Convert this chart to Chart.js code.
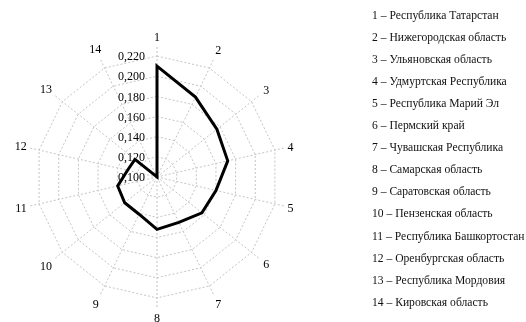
<!DOCTYPE html>
<html>
<head>
<meta charset="utf-8">
<script src="https://cdn.jsdelivr.net/npm/chart.js@4"></script>
<style>
  body { margin: 0; background: #fff; }
  #wrap { position: relative; width: 526px; height: 322px; overflow: hidden; }
  #radar { position: absolute; left: 0; top: 0; }
  #legend {
    position: absolute; left: 372px; top: 4.6px;
    font: 11.6px "Liberation Serif", "Times New Roman", serif;
    line-height: 22.1px; color: #111; white-space: nowrap;
  }
</style>
</head>
<body>
<div id="wrap">
  <canvas id="radar" width="526" height="322"></canvas>
  <div id="legend"></div>
</div>
<script>
const regionNumbers = ['1', '2', '3', '4', '5', '6', '7', '8', '9', '10', '11', '12', '13', '14'];
const regionNames = [
  'Республика Татарстан',
  'Нижегородская область',
  'Ульяновская область',
  'Удмуртская Республика',
  'Республика Марий Эл',
  'Пермский край',
  'Чувашская Республика',
  'Самарская область',
  'Саратовская область',
  'Пензенская область',
  'Республика Башкортостан',
  'Оренбургская область',
  'Республика Мордовия',
  'Кировская область'
];
const indexValues = [0.210, 0.188, 0.176, 0.172, 0.160, 0.157, 0.150, 0.152, 0.141, 0.141, 0.140, 0.130, 0.128, 0.100];
const tickMin = 0.100;
const tickStep = 0.020;

const formatTick = v => v.toFixed(3).replace('.', ',');

// легенда справа
document.getElementById('legend').innerHTML = regionNumbers
  .map((n, i) => `<div>${n} – ${regionNames[i]}</div>`)
  .join('');

const labelFont = '12px "Liberation Serif", "Times New Roman", serif';

// подписи осей и шкалы рисуем сами, чтобы поставить их как в исходнике
const radarLabels = {
  id: 'radarLabels',
  beforeDatasetsDraw(chart) {
    const scale = chart.scales.r;
    const ctx = chart.ctx;
    ctx.save();
    ctx.font = labelFont;
    ctx.fillStyle = '#000';
    ctx.textAlign = 'right';
    ctx.textBaseline = 'middle';
    scale.ticks.forEach(t => {
      const d = scale.getDistanceFromCenterForValue(t.value);
      ctx.fillText(formatTick(t.value), scale.xCenter - 12, scale.yCenter - d + 1);
    });
    ctx.restore();
  },
  afterDraw(chart) {
    const scale = chart.scales.r;
    const ctx = chart.ctx;
    ctx.save();
    ctx.font = labelFont;
    ctx.fillStyle = '#000';
    ctx.textAlign = 'center';
    ctx.textBaseline = 'middle';
    regionNumbers.forEach((label, i) => {
      const w = ctx.measureText(label).width;
      const a = scale.getIndexAngle(i);
      const ext = (w / 2) * Math.abs(Math.sin(a)) + 8.5 * Math.abs(Math.cos(a));
      const p = scale.getPointPosition(i, scale.drawingArea + 2 + ext);
      ctx.fillText(label, p.x, p.y + 1);
    });
    ctx.restore();
  }
};

new Chart(document.getElementById('radar'), {
  type: 'radar',
  data: {
    labels: regionNumbers,
    datasets: [{
      data: indexValues,
      borderColor: '#000',
      borderWidth: 3,
      fill: false,
      pointRadius: 0,
      tension: 0
    }]
  },
  options: {
    responsive: false,
    animation: false,
    devicePixelRatio: 1,
    layout: { padding: { left: 27, top: 47, right: 239, bottom: 15 } },
    plugins: { legend: { display: false }, tooltip: { enabled: false } },
    scales: {
      r: {
        min: tickMin,
        max: 0.229,
        ticks: { stepSize: tickStep, includeBounds: false, display: false },
        pointLabels: { display: false },
        grid: { color: '#c4c4c4', lineWidth: 1 },
        border: { dash: [2, 2] },
        angleLines: { color: '#c4c4c4', lineWidth: 1, borderDash: [2, 2] }
      }
    }
  },
  plugins: [radarLabels]
});
</script>
</body>
</html>
